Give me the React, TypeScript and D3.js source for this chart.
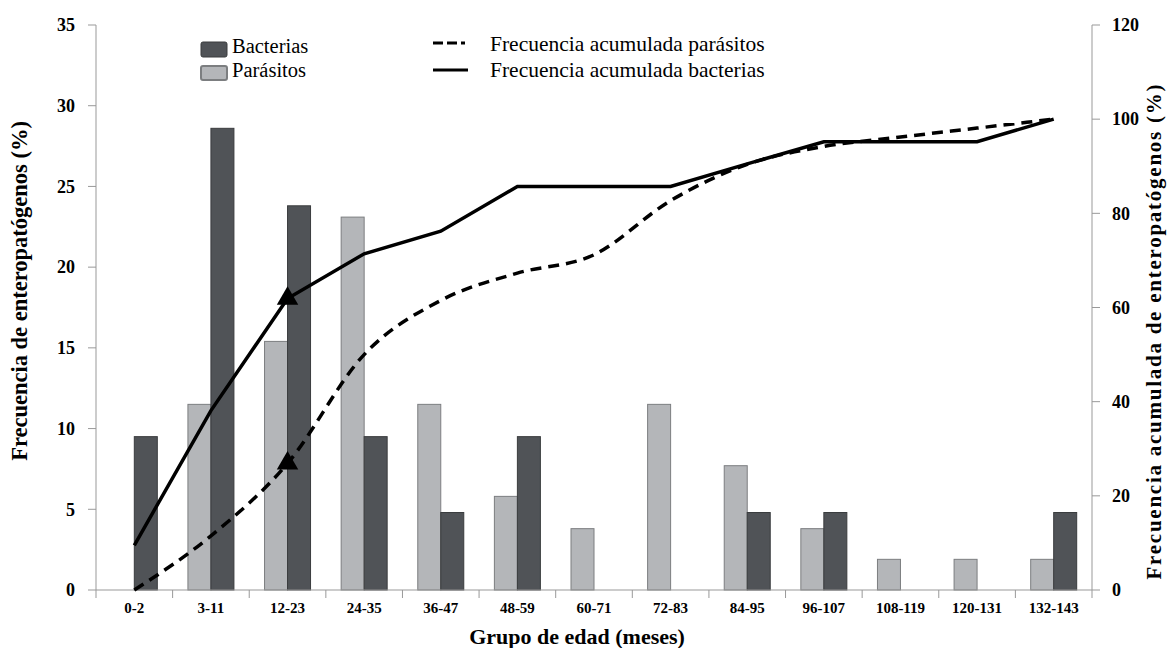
import * as d3 from 'd3'

const groups = ['0-2', '3-11', '12-23', '24-35', '36-47', '48-59', '60-71', '72-83', '84-95', '96-107', '108-119', '120-131', '132-143']
const bacterias = [9.5, 28.6, 23.8, 9.5, 4.8, 9.5, 0, 0, 4.8, 4.8, 0, 0, 4.8]
const parasitos = [0, 11.5, 15.4, 23.1, 11.5, 5.8, 3.8, 11.5, 7.7, 3.8, 1.9, 1.9, 1.9]
const acumBacterias = [9.5, 38.1, 61.9, 71.4, 76.2, 85.7, 85.7, 85.7, 90.5, 95.2, 95.2, 95.2, 100]
const acumParasitos = [0, 11.5, 26.9, 50, 61.5, 67.3, 71.2, 82.7, 90.4, 94.2, 96.2, 98.1, 100]
const leftTicks = [0, 5, 10, 15, 20, 25, 30, 35]
const rightTicks = [0, 20, 40, 60, 80, 100, 120]
const markerIndex = 2

const App = () => {
  const width = 1167
  const height = 648
  const left = 96
  const right = 1092
  const top = 25
  const bottom = 590

  const x = d3.scaleBand().domain(groups).range([left, right])
  const yL = d3.scaleLinear().domain([0, 35]).range([bottom, top])
  const yR = d3.scaleLinear().domain([0, 120]).range([bottom, top])
  const barW = 23
  const cx = (g: string) => (x(g) as number) + x.bandwidth() / 2

  const lineB = d3.line<number>()
    .x((_, i) => cx(groups[i]))
    .y(d => yR(d))
  const lineP = d3.line<number>()
    .x((_, i) => cx(groups[i]))
    .y(d => yR(d))
    .curve(d3.curveMonotoneX)
  const tri = d3.symbol(d3.symbolTriangle, 200)()

  const font = "'Liberation Serif', 'Times New Roman', serif"
  const axisColor = '#999'

  return (
    <svg width={width} height={height} style={{ position: 'absolute', left: 0, top: 0, fontFamily: font }}>
      <rect width={width} height={height} fill="#fff" />

      {/* bars */}
      {groups.map((g, i) => (
        <g key={g}>
          {parasitos[i] > 0 && (
            <rect x={cx(g) - barW} y={yL(parasitos[i])} width={barW} height={bottom - yL(parasitos[i])}
              fill="#b4b6b9" stroke="#7c7e80" strokeWidth={1} />
          )}
          {bacterias[i] > 0 && (
            <rect x={cx(g)} y={yL(bacterias[i])} width={barW} height={bottom - yL(bacterias[i])}
              fill="#505357" stroke="#3a3c3e" strokeWidth={1} />
          )}
        </g>
      ))}

      {/* axes */}
      <line x1={left} x2={left} y1={top} y2={bottom} stroke={axisColor} />
      <line x1={right} x2={right} y1={top} y2={bottom} stroke={axisColor} />
      <line x1={left} x2={right} y1={bottom} y2={bottom} stroke={axisColor} />
      {leftTicks.map(t => (
        <g key={'l' + t}>
          <line x1={left - 8} x2={left} y1={yL(t)} y2={yL(t)} stroke={axisColor} />
          <text x={left - 21} y={yL(t)} dy="0.35em" textAnchor="end" fontSize={18} fontWeight="bold">{t}</text>
        </g>
      ))}
      {rightTicks.map(t => (
        <g key={'r' + t}>
          <line x1={right} x2={right + 8} y1={yR(t)} y2={yR(t)} stroke={axisColor} />
          <text x={right + 20} y={yR(t)} dy="0.35em" textAnchor="start" fontSize={18} fontWeight="bold">{t}</text>
        </g>
      ))}
      {groups.map(g => (
        <line key={'t' + g} x1={x(g)} x2={x(g)} y1={bottom} y2={bottom + 8} stroke={axisColor} />
      ))}
      <line x1={right} x2={right} y1={bottom} y2={bottom + 8} stroke={axisColor} />
      {groups.map(g => (
        <text key={'x' + g} x={cx(g)} y={613} textAnchor="middle" fontSize={15} fontWeight="bold">{g}</text>
      ))}

      {/* titles */}
      <text x={577} y={644} textAnchor="middle" fontSize={22} fontWeight="bold">Grupo de edad (meses)</text>
      <text transform="translate(27,291) rotate(-90)" textAnchor="middle" fontSize={22.5} fontWeight="bold">Frecuencia de enteropatógenos (%)</text>
      <text transform="translate(1161,332) rotate(-90)" textAnchor="middle" fontSize={21} fontWeight="bold"
        textLength={495} lengthAdjust="spacing">Frecuencia acumulada de enteropatógenos (%)</text>

      {/* cumulative lines */}
      <path d={lineP(acumParasitos) ?? ''} fill="none" stroke="#000" strokeWidth={3.5} strokeDasharray="11,7" />
      <path d={lineB(acumBacterias) ?? ''} fill="none" stroke="#000" strokeWidth={3.5} />
      <path d={tri ?? ''} transform={`translate(${cx(groups[markerIndex])},${yR(acumBacterias[markerIndex])})`} fill="#000" />
      <path d={tri ?? ''} transform={`translate(${cx(groups[markerIndex])},${yR(acumParasitos[markerIndex])})`} fill="#000" />

      {/* legend */}
      <rect x={201} y={42} width={26} height={15} rx={2} fill="#505357" stroke="#3a3c3e" />
      <text x={232} y={53} fontSize={20.5}>Bacterias</text>
      <rect x={201} y={66} width={26} height={14} rx={2} fill="#b4b6b9" stroke="#7c7e80" strokeWidth={2} />
      <text x={232} y={77} fontSize={20.5}>Parásitos</text>
      <line x1={433} x2={470} y1={43} y2={43} stroke="#000" strokeWidth={3} strokeDasharray="10,4,10,4,4" />
      <line x1={433} x2={468} y1={70} y2={70} stroke="#000" strokeWidth={3} />
      <text x={490} y={51} fontSize={21.5}>Frecuencia acumulada parásitos</text>
      <text x={490} y={77} fontSize={21.5}>Frecuencia acumulada bacterias</text>
    </svg>
  )
}

export default App
